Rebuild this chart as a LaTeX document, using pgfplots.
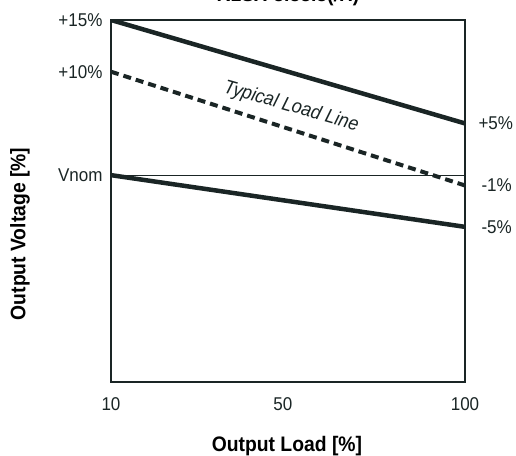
\documentclass[border=0pt]{standalone}
\usepackage{fontspec}
\setmainfont[FakeStretch=0.92]{Liberation Sans}
\usepackage{pgfplots}
\pgfplotsset{compat=1.18}
\usetikzlibrary{calc}
\definecolor{ink}{HTML}{1A2525}

\begin{document}
\begin{tikzpicture}
\begin{axis}[
  scale only axis,
  width=354pt, height=362pt,
  xmin=10, xmax=100, ymin=-20, ymax=15,
  axis line style={ink, line width=2.4pt},
  axis on top,
  clip mode=individual,
  xtick={10,53.7,100}, xticklabels={10,50,100},
  ytick={0,10,15}, yticklabels={Vnom,+10\%,+15\%},
  major tick length=0pt,
  tick label style={font=\fontsize{18.5}{18.5}\selectfont, text=ink},
  xticklabel style={yshift=-12pt},
  yticklabel style={xshift=-5pt},
  title={R1SX-3.33.3(/H)},
  title style={at={(rel axis cs:0.5,1.035)}, anchor=base,
    font=\fontsize{21}{21}\selectfont\bfseries},
  xlabel={Output Load [\%]},
  ylabel={Output Voltage [\%]},
  label style={font=\fontsize{21}{21}\selectfont\bfseries},
  xlabel style={at={(rel axis cs:0.497,-0.176)}, anchor=center},
  ylabel style={at={(rel axis cs:-0.257,0.409)}, anchor=center},
]
  % upper limit
  \addplot[ink, line width=4.5pt] coordinates {(10,15) (100,5)};
  % typical load line
  \addplot[ink, line width=4pt, dash pattern=on 8pt off 5pt] coordinates {(10,10) (100,-1)};
  % lower limit
  \addplot[ink, line width=4.5pt] coordinates {(10,0) (100,-5)};
  % Vnom reference
  \addplot[ink, line width=0.8pt] coordinates {(10,0) (100,0)};

  \node[rotate=-16, font=\fontsize{19.5}{19.5}\selectfont\itshape, text=ink]
    at (axis cs:55.8,6.6) {Typical Load Line};
  \node[anchor=west, font=\fontsize{18.5}{18.5}\selectfont, text=ink] at (axis cs:100,5) [xshift=10pt] {+5\%};
  \node[anchor=west, font=\fontsize{18.5}{18.5}\selectfont, text=ink] at (axis cs:100,-1) [xshift=13pt] {-1\%};
  \node[anchor=west, font=\fontsize{18.5}{18.5}\selectfont, text=ink] at (axis cs:100,-5) [xshift=13pt] {-5\%};
\end{axis}
\pgfresetboundingbox
\path[use as bounding box] ($(current axis.south west)+(-111pt,-74pt)$) rectangle ($(current axis.north east)+(51pt,20pt)$);
\end{tikzpicture}
\end{document}
